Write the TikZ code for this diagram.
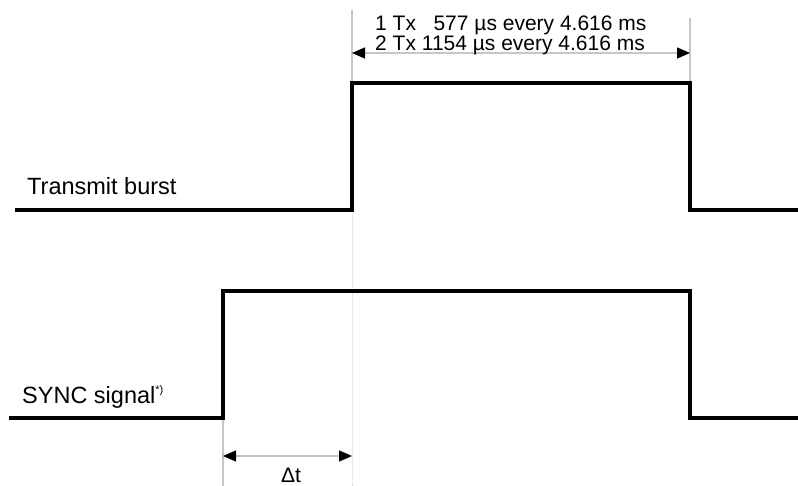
\documentclass[tikz,border=0pt]{standalone}
\usepackage{fontspec}
\setmainfont{Liberation Sans}
\usetikzlibrary{arrows.meta}
\begin{document}
\begin{tikzpicture}[x=1pt,y=-1pt,
  wave/.style={line width=3.2pt, black, line join=miter},
  guide/.style={line width=1.4pt, black!22},
  dotguide/.style={line width=1pt, black!18, dash pattern=on 1pt off 1pt},
  dimarrow/.style={line width=1.4pt, black!22,
    {Triangle[length=13pt,width=11pt,color=black]}-{Triangle[length=13pt,width=11pt,color=black]}},
  lbl/.style={inner sep=0pt, anchor=base west, font=\fontsize{23.5}{26}\selectfont},
  toplbl/.style={inner sep=0pt, anchor=base west, font=\fontsize{21}{18}\selectfont}]
\useasboundingbox (0,0) rectangle (798,486);
% key coordinates
\coordinate (tb0) at (15,210);
\coordinate (tb1) at (352,210);
\coordinate (tb2) at (352,83);
\coordinate (tb3) at (690,83);
\coordinate (tb4) at (690,210);
\coordinate (tb5) at (798,210);
\coordinate (sy0) at (9,418);
\coordinate (sy1) at (223,418);
\coordinate (sy2) at (223,291);
\coordinate (sy3) at (690,291);
\coordinate (sy4) at (690,418);
\coordinate (sy5) at (798,418);
\coordinate (gl) at (352,10);
\coordinate (gr) at (690,18);
\coordinate (gb) at (352,486);
\coordinate (gs) at (223,486);
\coordinate (al) at (352,53);
\coordinate (ar) at (690,53);
\coordinate (dl) at (223,456);
\coordinate (dr) at (352,456);
% guide lines
\draw[guide] (gl) -- (tb2);
\draw[guide] (gr) -- (tb3);
\draw[dotguide] (tb2) -- (gb);
\draw[guide] (sy1) -- (gs);
% dimension arrows
\draw[dimarrow] (al) -- (ar);
\draw[dimarrow] (dl) -- (dr);
% waveforms
\draw[wave] (tb0) -- (tb1) -- (tb2) -- (tb3) -- (tb4) -- (tb5);
\draw[wave] (sy0) -- (sy1) -- (sy2) -- (sy3) -- (sy4) -- (sy5);
% labels
\node[lbl] (lt) at (27,195) {Transmit burst};
\node[lbl] (ls) at (22,403) {SYNC signal\textsuperscript{\fontsize{11}{12}\selectfont *)}};
\node[toplbl] (t1) at (375,31) {1 Tx \phantom{1}577 µs every 4.616 ms};
\node[toplbl] (t2) at (375,50.5) {2 Tx 1154 µs every 4.616 ms};
\node[inner sep=0pt, anchor=base, font=\fontsize{21}{24}\selectfont] (dt) at (291,482) {Δt};
\end{tikzpicture}
\end{document}
